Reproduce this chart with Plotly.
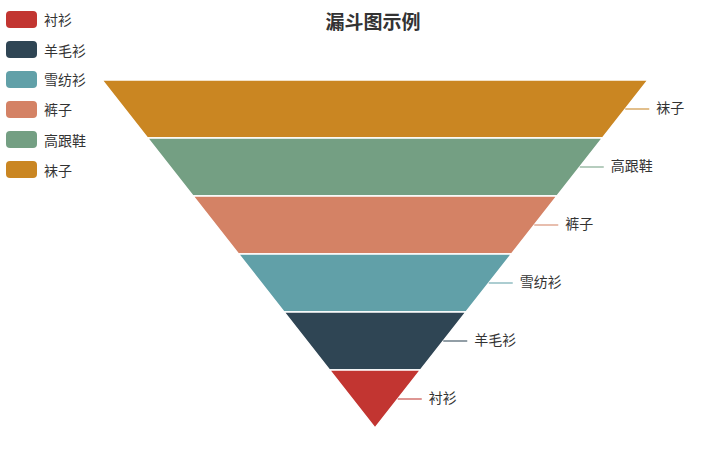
import plotly.graph_objects as go

# funnel data (legend order)
names = ["衬衫", "羊毛衫", "雪纺衫", "裤子", "高跟鞋", "袜子"]
values = [10, 20, 30, 40, 50, 60]
colors = ["#c23531", "#2f4554", "#61a0a8", "#d48265", "#749f83", "#ca8622"]

W, H = 725, 454
px_per_unit = 9.1      # horizontal pixels per value unit
seg_px = 58            # height of each segment in pixels
cx, top_px = 375, 80

# widest on top
order = sorted(range(len(values)), key=lambda i: -values[i])

fig = go.Figure()
for pos, i in enumerate(order):
    v = values[i]
    vn = values[order[pos + 1]] if pos + 1 < len(order) else 0
    y0, y1 = pos, pos + 1
    fig.add_trace(go.Scatter(
        x=[-v / 2, v / 2, vn / 2, -vn / 2, -v / 2],
        y=[y0, y0, y1, y1, y0],
        fill="toself", fillcolor=colors[i], mode="lines",
        line=dict(color="white", width=1.5),
        name=names[i], hoverinfo="name", showlegend=False,
    ))

    # label with leader line
    edge = (v + vn) / 4
    end = edge + 24 / px_per_unit
    ym = pos + 0.5
    fig.add_trace(go.Scatter(
        x=[edge, end], y=[ym, ym], mode="lines",
        line=dict(color=colors[i], width=1.3), opacity=0.8,
        showlegend=False, hoverinfo="skip",
    ))
    fig.add_trace(go.Scatter(
        x=[end + 7 / px_per_unit], y=[ym], mode="text", text=[names[i]],
        textposition="middle right",
        textfont=dict(size=14, color="#333", family="Noto Sans CJK SC"),
        showlegend=False, hoverinfo="skip",
    ))

# hand-drawn legend (rounded icons like the original)
def rounded_rect(x0, y0, w, h, r):
    # pixel coords -> paper coords
    def p(x, y):
        return f"{x / W:.5f},{1 - y / H:.5f}"
    x1, y1 = x0 + w, y0 + h
    return (f"M {p(x0 + r, y0)} L {p(x1 - r, y0)} Q {p(x1, y0)} {p(x1, y0 + r)} "
            f"L {p(x1, y1 - r)} Q {p(x1, y1)} {p(x1 - r, y1)} "
            f"L {p(x0 + r, y1)} Q {p(x0, y1)} {p(x0, y1 - r)} "
            f"L {p(x0, y0 + r)} Q {p(x0, y0)} {p(x0 + r, y0)} Z")

for k, (n, c) in enumerate(zip(names, colors)):
    yy = 11 + 30 * k
    fig.add_shape(type="path", xref="paper", yref="paper",
                  path=rounded_rect(6, yy, 31, 17, 4),
                  fillcolor=c, line=dict(width=0))
    fig.add_annotation(x=42 / W, y=1 - (yy + 8.5) / H, xref="paper", yref="paper",
                       text=n, showarrow=False, xanchor="left", yanchor="middle",
                       font=dict(size=14, color="#333"))

x_lo = -cx / px_per_unit
x_hi = (W - cx) / px_per_unit
y_lo = -top_px / seg_px
y_hi = (H - top_px) / seg_px

fig.update_layout(
    width=W, height=H,
    margin=dict(l=0, r=0, t=0, b=0),
    paper_bgcolor="white", plot_bgcolor="white",
    font=dict(family="Noto Sans CJK SC", color="#333"),
    title=dict(text="<b>漏斗图示例</b>", x=373 / W, xanchor="center",
               y=1 - 22 / H, yanchor="middle",
               font=dict(size=19, color="#333")),
    xaxis=dict(range=[x_lo, x_hi], visible=False, fixedrange=True),
    yaxis=dict(range=[y_hi, y_lo], visible=False, fixedrange=True),
    showlegend=False,
)

fig.write_html("out.html", config={"displayModeBar": False},
               post_script="document.body.style.margin='0';")
